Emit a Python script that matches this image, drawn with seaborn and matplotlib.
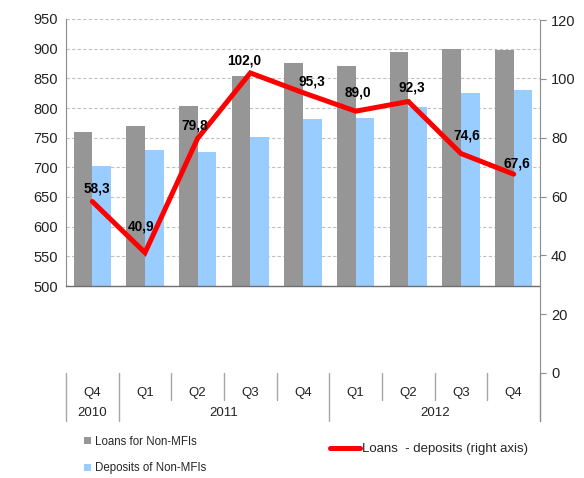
import numpy as np
import pandas as pd
import matplotlib.pyplot as plt
import seaborn as sns
from matplotlib.patches import Patch
from matplotlib.lines import Line2D
from matplotlib.transforms import blended_transform_factory

# data
quarters = ["Q4", "Q1", "Q2", "Q3", "Q4", "Q1", "Q2", "Q3", "Q4"]
years = ["2010", "2011", "2012"]
year_spans = [(0, 0), (1, 4), (5, 8)]
loans = [760, 770, 804, 854, 876, 871, 894, 899, 897]
deposits = [703, 730, 725, 751, 781, 783, 801, 826, 830]
gap = [58.3, 40.9, 79.8, 102.0, 95.3, 89.0, 92.3, 74.6, 67.6]
gap_labels = ["58,3", "40,9", "79,8", "102,0", "95,3", "89,0", "92,3", "74,6", "67,6"]

# label offsets in pixels (dx, dy)
label_offsets = [(5, 13), (-4, 26), (-3, 13), (-6, 12), (9, 11), (2, 19), (3, 14), (6, 18), (3, 11)]

LOAN_COL = "#969696"
DEP_COL = "#99CCFF"
RED = "#FF0000"
AXIS_COL = "#8C8C8C"

sns.set_style("white")
plt.rcParams["font.family"] = ["Liberation Sans", "DejaVu Sans"]

W, H = 584, 478
fig = plt.figure(figsize=(W / 100, H / 100), dpi=100)

x0, x1 = 66, 540
ax = fig.add_axes([x0 / W, 1 - 286 / H, (x1 - x0) / W, (286 - 19) / H])
ax2 = fig.add_axes([x0 / W, 1 - 373 / H, (x1 - x0) / W, (373 - 20) / H], facecolor="none")

n = len(quarters)
df = pd.DataFrame({
    "pos": list(range(n)) * 2,
    "value": loans + deposits,
    "series": ["Loans for Non-MFIs"] * n + ["Deposits of Non-MFIs"] * n,
})
sns.barplot(data=df, x="pos", y="value", hue="series",
            palette=[LOAN_COL, DEP_COL], width=0.71, gap=0, saturation=1,
            linewidth=0, ax=ax, legend=False)
ax.set_ylim(500, 950)
ax.set_xlim(-0.5, n - 0.5)
ax.set_yticks(np.arange(500, 951, 50))
ax.yaxis.grid(True, color="#C0C0C0", linestyle=(0, (3, 2)), linewidth=0.8)
ax.set_axisbelow(True)
ax.set_xlabel("")
ax.set_ylabel("")
ax.set_xticks([])
ax.set_xticks(np.arange(-0.5, n, 1), minor=True)
ax.tick_params(axis="x", which="minor", length=3, color="#6E6E6E", direction="out")
ax.tick_params(axis="y", length=3, color=AXIS_COL, labelsize=10.5, labelcolor="#222222", pad=3)
for s in ["top", "right"]:
    ax.spines[s].set_visible(False)
ax.spines["left"].set_color(AXIS_COL)
ax.spines["bottom"].set_color("#6E6E6E")
ax.spines["bottom"].set_linewidth(1.0)

# line on right axis
sns.lineplot(x=np.arange(n), y=gap, color=RED, linewidth=3.6, ax=ax2,
             solid_joinstyle="miter")
ax2.set_xlim(-0.5, n - 0.5)
ax2.set_ylim(0, 120)
ax2.yaxis.tick_right()
ax2.set_yticks(np.arange(0, 121, 20))
ax2.tick_params(axis="y", length=4, color=AXIS_COL, labelsize=10.5, labelcolor="#222222", pad=4)
for s in ["top", "left", "bottom"]:
    ax2.spines[s].set_visible(False)
ax2.spines["right"].set_color(AXIS_COL)
ax2.spines["right"].set_bounds(-16.3, 120)

for i, (v, lab) in enumerate(zip(gap, gap_labels)):
    dx, dy = label_offsets[i]
    ax2.annotate(lab, (i, v), xytext=(dx, dy), textcoords="offset pixels",
                 ha="center", va="center", fontsize=9.8, fontweight="bold", color="black")

# category axis
ax2.set_xticks(range(n))
ax2.set_xticklabels(quarters)
ax2.tick_params(axis="x", length=0, labelsize=9.5, labelcolor="#222222", pad=10)
tr = blended_transform_factory(ax2.transData, ax2.transAxes)
hpx = 373 - 20
short = 27 / hpx
long_ = 48 / hpx
year_bounds = {-0.5, 0.5, 4.5, 8.5}
for b in np.arange(-0.5, n, 1):
    ln = long_ if b in year_bounds else short
    ax2.plot([b, b], [0, -ln], transform=tr, color="#A6A6A6", lw=1.0, clip_on=False)
for yr, (a, b) in zip(years, year_spans):
    ax2.text((a + b) / 2, -40 / hpx, yr, transform=tr, ha="center", va="center",
             fontsize=9.5, color="#222222")

# legends
bar_handles = [Patch(facecolor=LOAN_COL, edgecolor="none"),
               Patch(facecolor=DEP_COL, edgecolor="none")]
fig.legend(bar_handles, ["Loans for Non-MFIs", "Deposits of Non-MFIs"],
           loc="center left", bbox_to_anchor=(78 / W, 1 - 455 / H), frameon=False,
           fontsize=8.3, handlelength=0.6, handleheight=0.6, handletextpad=0.35,
           labelspacing=1.3, borderpad=0)
line_handle = [Line2D([0], [0], color=RED, linewidth=3.6)]
fig.legend(line_handle, ["Loans  - deposits (right axis)"],
           loc="center left", bbox_to_anchor=(323 / W, 1 - 449 / H), frameon=False,
           fontsize=9.5, handlelength=2.3, handletextpad=0.15, borderpad=0)

fig.savefig("out.png", dpi=100)
